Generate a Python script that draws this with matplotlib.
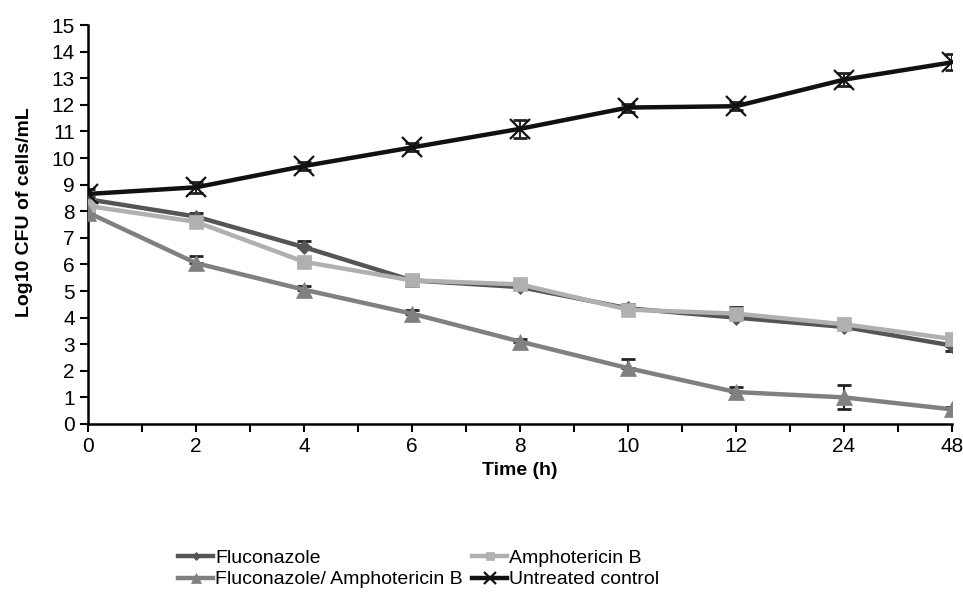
import numpy as np
import matplotlib.pyplot as plt

plt.rcParams['font.family'] = ['Liberation Sans', 'DejaVu Sans']

time_labels = ['0', '2', '4', '6', '8', '10', '12', '24', '48']

fluconazole = [8.45, 7.8, 6.65, 5.4, 5.15, 4.35, 4.0, 3.65, 2.95]
fluconazole_up = [0.1, 0.15, 0.25, 0.2, 0.1, 0.15, 0.4, 0.1, 0.0]
fluconazole_low = [0.0, 0.0, 0.0, 0.2, 0.0, 0.0, 0.0, 0.0, 0.2]

amphotericin = [8.2, 7.6, 6.1, 5.4, 5.25, 4.3, 4.15, 3.75, 3.2]
amphotericin_up = [0.1, 0.1, 0.1, 0.1, 0.1, 0.1, 0.1, 0.1, 0.1]
amphotericin_low = [0.0, 0.0, 0.0, 0.0, 0.0, 0.0, 0.0, 0.0, 0.0]

combination = [7.95, 6.05, 5.05, 4.15, 3.1, 2.1, 1.2, 1.0, 0.55]
combination_up = [0.1, 0.25, 0.15, 0.15, 0.1, 0.35, 0.2, 0.45, 0.1]
combination_low = [0.0, 0.0, 0.0, 0.0, 0.0, 0.0, 0.0, 0.45, 0.0]

untreated = [8.65, 8.9, 9.7, 10.4, 11.1, 11.9, 11.95, 12.95, 13.6]
untreated_up = [0.2, 0.2, 0.15, 0.15, 0.35, 0.15, 0.15, 0.25, 0.3]
untreated_low = [0.2, 0.2, 0.15, 0.15, 0.35, 0.15, 0.15, 0.25, 0.3]

x = np.arange(len(time_labels))

fig = plt.figure(figsize=(9.63, 5.98), dpi=100)
ax = fig.add_axes([0.0914, 0.291, 0.8972, 0.667])

series = [
    (fluconazole, fluconazole_low, fluconazole_up, '#555555', 'D', 7, 'Fluconazole'),
    (amphotericin, amphotericin_low, amphotericin_up, '#b0b0b0', 's', 10, 'Amphotericin B'),
    (combination, combination_low, combination_up, '#808080', '^', 11, 'Fluconazole/ Amphotericin B'),
    (untreated, untreated_low, untreated_up, '#111111', 'x', 14, 'Untreated control'),
]

handles = []
for vals, lo, up, col, mk, ms, lab in series:
    ax.errorbar(x, vals, yerr=[lo, up], fmt='none', ecolor='#222222',
                elinewidth=1.5, capsize=5, capthick=2, zorder=2)
    h, = ax.plot(x, vals, color=col, lw=3.2, marker=mk, markersize=ms,
                 markeredgewidth=1.6 if mk == 'x' else 0.5,
                 markeredgecolor=col, label=lab, zorder=3)
    handles.append(h)

ax.set_xlim(0, len(time_labels) - 1)
ax.set_ylim(0, 15)
ax.set_xticks(x)
ax.set_xticklabels(time_labels)
ax.set_xticks(np.arange(0.5, len(time_labels) - 1, 1), minor=True)
ax.set_yticks(range(0, 16))
ax.tick_params(axis='both', labelsize=15, width=1.5, length=6, direction='out')
ax.tick_params(axis='x', which='minor', width=1.5, length=6)
for s in ['top', 'right']:
    ax.spines[s].set_visible(False)
for s in ['left', 'bottom']:
    ax.spines[s].set_linewidth(1.8)

ax.set_xlabel('Time (h)', fontsize=14, fontweight='bold')
ax.set_ylabel('Log10 CFU of cells/mL', fontsize=14, fontweight='bold')
ax.yaxis.set_label_coords(-0.064, 0.53)

order = [handles[0], handles[2], handles[1], handles[3]]
fig.legend(order, [h.get_label() for h in order], ncol=2, loc='upper left',
           bbox_to_anchor=(0.185, 0.082), borderaxespad=0, borderpad=0,
           frameon=False, fontsize=14,
           handlelength=1.8, handletextpad=0.1, columnspacing=0.5,
           labelspacing=0.22, markerscale=0.6)

fig.savefig('out.png', dpi=100)
